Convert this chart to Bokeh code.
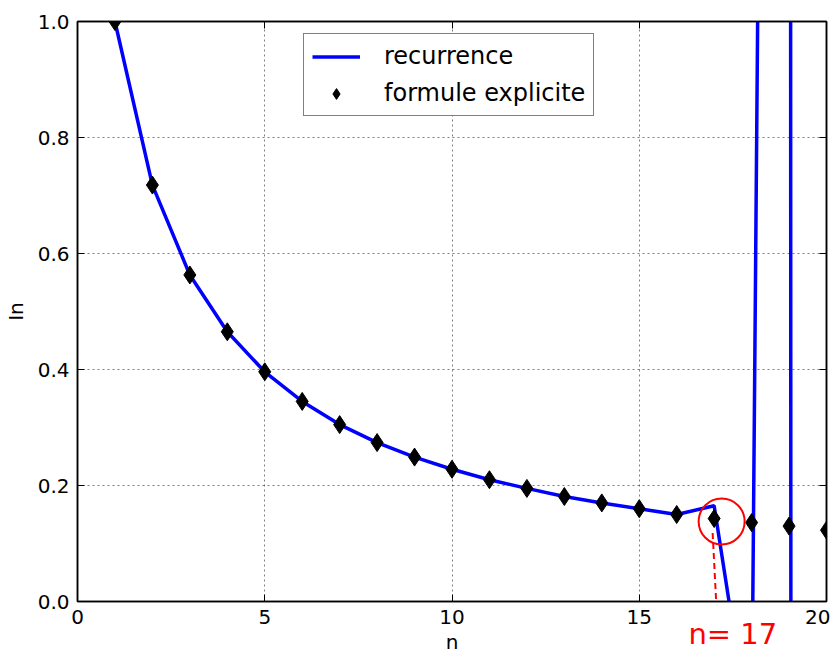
from bokeh.plotting import figure
from bokeh.models import (Range1d, FixedTicker, PrintfTickFormatter, Legend, LegendItem,
                          LinearAxis, CustomJSTickFormatter)
from bokeh.embed import file_html
from bokeh.resources import INLINE

# ---- data ----
n = list(range(1, 21))
explicit_vals = [1.000, 0.718, 0.563, 0.465, 0.396, 0.345, 0.305, 0.274, 0.249, 0.228,
                 0.210, 0.195, 0.181, 0.170, 0.160, 0.150, 0.143, 0.136, 0.130, 0.123]
recurrence_vals = [1.000, 0.718, 0.563, 0.465, 0.396, 0.345, 0.305, 0.274, 0.249, 0.228,
                   0.210, 0.195, 0.181, 0.170, 0.160, 0.150, 0.165, -0.25, 7.5, -147.0]
x_ticks = [0, 5, 10, 15, 20]
y_ticks = [0.0, 0.2, 0.4, 0.6, 0.8, 1.0]
legend_labels = ["recurrence", "formule explicite"]
annot_text = "n= 17"
annot_n = 17

FONT = "DejaVu Sans"

p = figure(width=830, height=656, x_range=Range1d(0, 20), y_range=Range1d(0, 1),
           output_backend="svg", toolbar_location=None,
           min_border_left=69, min_border_right=4, min_border_top=21, min_border_bottom=48,
           x_axis_label="n", y_axis_label="In")

p.background_fill_color = "white"
p.border_fill_color = "white"
p.outline_line_color = "black"
p.outline_line_width = 1.5
p.outline_line_alpha = 1

for ax in (p.xaxis[0], p.yaxis[0]):
    ax.axis_line_color = "black"
    ax.axis_line_width = 1.5
    ax.major_tick_in = 7
    ax.major_tick_out = 0
    ax.minor_tick_in = 0
    ax.minor_tick_out = 0
    ax.major_tick_line_color = "black"
    ax.major_label_text_font = FONT
    ax.major_label_text_font_size = "20px"
    ax.major_label_text_color = "black"
    ax.axis_label_text_font = FONT
    ax.axis_label_text_font_size = "20px"
    ax.axis_label_text_font_style = "normal"
    ax.axis_label_text_color = "black"

p.xaxis.ticker = FixedTicker(ticks=x_ticks)
p.yaxis.ticker = FixedTicker(ticks=y_ticks)
p.yaxis.formatter = PrintfTickFormatter(format="%.1f")
p.xaxis.major_label_standoff = 8
p.xaxis.axis_label_standoff = 3
p.yaxis.major_label_standoff = 8
p.yaxis.axis_label_standoff = 7

# mirrored inward ticks on the top and right edges (no labels)
for side, ticks in (("above", x_ticks), ("right", y_ticks)):
    mirror = LinearAxis(ticker=FixedTicker(ticks=ticks),
                        formatter=CustomJSTickFormatter(code="return ''"))
    mirror.axis_line_color = "black"
    mirror.axis_line_width = 1.5
    mirror.major_tick_in = 7
    mirror.major_tick_out = 0
    mirror.minor_tick_in = 0
    mirror.minor_tick_out = 0
    mirror.major_label_standoff = 0
    mirror.major_label_text_font_size = "1px"
    p.add_layout(mirror, side)

p.grid.grid_line_color = "black"
p.grid.grid_line_alpha = 0.5
p.grid.grid_line_dash = "2 3"
p.grid.grid_line_width = 1

line_r = p.line(n, recurrence_vals, line_color="blue", line_width=3.5)
pts_r = p.scatter(n, explicit_vals, marker="diamond", size=18,
                  fill_color="black", line_color="black")

# red hand-drawn style annotation around n = 17
i17 = n.index(annot_n)
p.circle(x=[n[i17] + 0.2], y=[explicit_vals[i17] - 0.005], radius=23, radius_units="screen",
         fill_color=None, line_color="red", line_width=2)
p.line(x=[n[i17] - 0.04, n[i17] + 0.07], y=[explicit_vals[i17] - 0.025, -0.02],
       line_color="red", line_width=2, line_dash="6 4")

# red "n= 17" note under the axis, drawn as a tick label of an invisible extra axis
note_x = n[i17] + 0.5
note_axis = LinearAxis(ticker=FixedTicker(ticks=[note_x]),
                       major_label_overrides={note_x: annot_text})
note_axis.axis_line_color = None
note_axis.major_tick_line_color = None
note_axis.minor_tick_line_color = None
note_axis.major_tick_in = 0
note_axis.major_tick_out = 0
note_axis.major_label_text_color = "red"
note_axis.major_label_text_font = FONT
note_axis.major_label_text_font_size = "29px"
note_axis.major_label_standoff = -40
p.add_layout(note_axis, "below")

legend = Legend(items=[LegendItem(label=legend_labels[0], renderers=[line_r]),
                       LegendItem(label=legend_labels[1], renderers=[pts_r])],
                location=(226, 485))
legend.label_text_font = FONT
legend.label_text_font_size = "24px"
legend.label_text_color = "black"
legend.glyph_width = 48
legend.glyph_height = 27
legend.label_height = 27
legend.label_standoff = 24
legend.padding = 8
legend.spacing = 9
legend.margin = 0
legend.border_line_color = "black"
legend.border_line_width = 1.5
legend.background_fill_color = "white"
legend.background_fill_alpha = 1
p.add_layout(legend)

open("out.html", "w").write(file_html(p, INLINE))
